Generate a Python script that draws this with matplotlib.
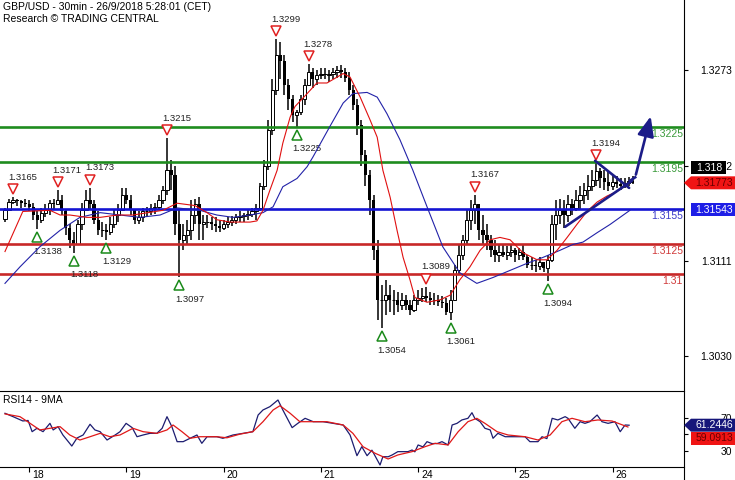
import matplotlib
matplotlib.use("Agg")
import matplotlib.pyplot as plt
import numpy as np
from matplotlib.lines import Line2D
from matplotlib.patches import Polygon
from matplotlib.transforms import IdentityTransform, offset_copy

plt.rcParams["font.family"] = ["Liberation Sans", "DejaVu Sans"]

# ---- data: hourly bars from 17/9 18:00 to 26/9 05:00 (index = bar number) ----
FIRST_OPEN = 1.3147
HIGH = [
    1.3156, 1.3164, 1.3165, 1.3164, 1.3163, 1.3164, 1.3163, 1.3160, 1.3153, 1.3156,
    1.3159, 1.3163, 1.3164, 1.3171, 1.3167, 1.3154, 1.3142, 1.3136, 1.3146, 1.3160,
    1.3171, 1.3173, 1.3163, 1.3153, 1.3144, 1.3142, 1.3148, 1.3154, 1.3159, 1.3173,
    1.3173, 1.3167, 1.3154, 1.3153, 1.3156, 1.3157, 1.3159, 1.3160, 1.3167, 1.3175,
    1.3215, 1.3197, 1.3192, 1.3154, 1.3142, 1.3146, 1.3163, 1.3164, 1.3165, 1.3150,
    1.3150, 1.3148, 1.3148, 1.3146, 1.3146, 1.3148, 1.3149, 1.3151, 1.3153, 1.3152,
    1.3154, 1.3156, 1.3159, 1.3177, 1.3197, 1.3231, 1.3265, 1.3299, 1.3297, 1.3286,
    1.3265, 1.3252, 1.3239, 1.3252, 1.3265, 1.3278, 1.3275, 1.3273, 1.3275, 1.3275,
    1.3273, 1.3275, 1.3276, 1.3277, 1.3275, 1.3271, 1.3260, 1.3248, 1.3231, 1.3205,
    1.3188, 1.3167, 1.3129, 1.3091, 1.3095, 1.3091, 1.3086, 1.3085, 1.3084, 1.3082,
    1.3078, 1.3082, 1.3086, 1.3088, 1.3089, 1.3085, 1.3084, 1.3082, 1.3081, 1.3080,
    1.3086, 1.3108, 1.3125, 1.3133, 1.3154, 1.3163, 1.3167, 1.3159, 1.3150, 1.3142,
    1.3133, 1.3129, 1.3125, 1.3125, 1.3124, 1.3125, 1.3122, 1.3122, 1.3125, 1.3116,
    1.3114, 1.3112, 1.3114, 1.3110, 1.3116, 1.3150, 1.3163, 1.3164, 1.3163, 1.3167,
    1.3164, 1.3171, 1.3175, 1.3177, 1.3184, 1.3188, 1.3194, 1.3190, 1.3188, 1.3187,
    1.3184, 1.3183, 1.3181, 1.3181, 1.3182, 1.3183]
LOW = [
    1.3144, 1.3154, 1.3159, 1.3158, 1.3156, 1.3157, 1.3153, 1.3146, 1.3138, 1.3143,
    1.3148, 1.3150, 1.3154, 1.3159, 1.3150, 1.3133, 1.3122, 1.3118, 1.3125, 1.3137,
    1.3153, 1.3154, 1.3142, 1.3133, 1.3131, 1.3129, 1.3133, 1.3139, 1.3144, 1.3154,
    1.3159, 1.3150, 1.3142, 1.3142, 1.3144, 1.3148, 1.3150, 1.3151, 1.3154, 1.3159,
    1.3167, 1.3171, 1.3133, 1.3097, 1.3120, 1.3125, 1.3129, 1.3142, 1.3129, 1.3129,
    1.3139, 1.3137, 1.3136, 1.3136, 1.3137, 1.3139, 1.3141, 1.3142, 1.3144, 1.3144,
    1.3146, 1.3148, 1.3146, 1.3153, 1.3171, 1.3188, 1.3218, 1.3252, 1.3265, 1.3252,
    1.3239, 1.3229, 1.3225, 1.3235, 1.3243, 1.3260, 1.3258, 1.3260, 1.3265, 1.3265,
    1.3263, 1.3265, 1.3266, 1.3266, 1.3263, 1.3252, 1.3239, 1.3218, 1.3192, 1.3175,
    1.3150, 1.3112, 1.3061, 1.3054, 1.3065, 1.3068, 1.3065, 1.3068, 1.3069, 1.3069,
    1.3065, 1.3068, 1.3074, 1.3076, 1.3076, 1.3074, 1.3074, 1.3073, 1.3071, 1.3065,
    1.3061, 1.3078, 1.3099, 1.3112, 1.3125, 1.3137, 1.3142, 1.3129, 1.3125, 1.3120,
    1.3114, 1.3110, 1.3110, 1.3114, 1.3112, 1.3114, 1.3110, 1.3112, 1.3112, 1.3105,
    1.3103, 1.3102, 1.3103, 1.3102, 1.3094, 1.3110, 1.3129, 1.3142, 1.3139, 1.3144,
    1.3150, 1.3153, 1.3154, 1.3159, 1.3163, 1.3170, 1.3175, 1.3173, 1.3171, 1.3170,
    1.3171, 1.3173, 1.3171, 1.3173, 1.3175, 1.3176]
CLOSE = [
    1.3154, 1.3161, 1.3163, 1.3162, 1.3160, 1.3159, 1.3157, 1.3150, 1.3146, 1.3152,
    1.3154, 1.3160, 1.3159, 1.3163, 1.3153, 1.3139, 1.3129, 1.3125, 1.3142, 1.3154,
    1.3163, 1.3159, 1.3146, 1.3137, 1.3137, 1.3136, 1.3142, 1.3150, 1.3154, 1.3167,
    1.3163, 1.3154, 1.3146, 1.3148, 1.3153, 1.3153, 1.3156, 1.3157, 1.3163, 1.3171,
    1.3188, 1.3184, 1.3142, 1.3129, 1.3133, 1.3137, 1.3150, 1.3159, 1.3142, 1.3144,
    1.3144, 1.3142, 1.3141, 1.3139, 1.3142, 1.3144, 1.3146, 1.3148, 1.3149, 1.3150,
    1.3151, 1.3153, 1.3156, 1.3175, 1.3192, 1.3222, 1.3256, 1.3286, 1.3281, 1.3260,
    1.3248, 1.3235, 1.3237, 1.3248, 1.3260, 1.3271, 1.3265, 1.3269, 1.3270, 1.3269,
    1.3270, 1.3271, 1.3273, 1.3271, 1.3266, 1.3256, 1.3243, 1.3226, 1.3201, 1.3184,
    1.3163, 1.3120, 1.3078, 1.3078, 1.3082, 1.3078, 1.3078, 1.3074, 1.3078, 1.3074,
    1.3069, 1.3078, 1.3080, 1.3081, 1.3080, 1.3078, 1.3078, 1.3076, 1.3075, 1.3068,
    1.3078, 1.3103, 1.3116, 1.3129, 1.3146, 1.3154, 1.3159, 1.3137, 1.3133, 1.3129,
    1.3120, 1.3116, 1.3119, 1.3116, 1.3119, 1.3120, 1.3116, 1.3119, 1.3114, 1.3108,
    1.3108, 1.3107, 1.3110, 1.3105, 1.3112, 1.3142, 1.3150, 1.3154, 1.3150, 1.3159,
    1.3156, 1.3163, 1.3167, 1.3171, 1.3175, 1.3180, 1.3187, 1.3181, 1.3178, 1.3175,
    1.3178, 1.3176, 1.3175, 1.3177, 1.3179, 1.3177]

# moving averages
RED_MA_T = [0, 4.4, 11.1, 13.6, 16.0, 20.2, 23.5, 27.7, 31.6, 39.0,
            42.5, 46.9, 49.9, 52.3, 55.6, 60.5, 62.2, 63.7, 65.4, 67.2,
            68.6, 70.4, 71.6, 74.6, 77.0, 79.5, 82.0, 83.5, 85.2, 87.7,
            90.1, 91.9, 93.3, 95.1, 96.8, 98.3, 100.0, 101.2, 104.2, 107.4,
            109.9, 112.3, 114.8, 117.3, 119.8, 122.2, 124.7, 127.9, 131.4, 133.8,
            136.3, 138.8, 141.2, 143.7, 146.2, 148.6, 151.1, 154.3]
RED_MA = [1.3119, 1.3153, 1.3154, 1.3150, 1.3150, 1.3148, 1.3148, 1.3150, 1.3150, 1.3154,
          1.3160, 1.3158, 1.3152, 1.3146, 1.3144, 1.3144, 1.3145, 1.3154, 1.3171, 1.3188,
          1.3211, 1.3233, 1.3242, 1.3253, 1.3262, 1.3262, 1.3267, 1.3270, 1.3267, 1.3250,
          1.3231, 1.3216, 1.3188, 1.3165, 1.3137, 1.3114, 1.3095, 1.3080, 1.3076, 1.3078,
          1.3082, 1.3095, 1.3106, 1.3120, 1.3129, 1.3131, 1.3129, 1.3118, 1.3112, 1.3112,
          1.3120, 1.3131, 1.3142, 1.3153, 1.3161, 1.3166, 1.3170, 1.3178]
BLUE_MA_T = [0, 3.7, 8.6, 13.6, 18.5, 23.5, 28.4, 33.3, 38.3, 42.5,
             48.1, 52.3, 56.3, 60.5, 63.7, 66.2, 68.6, 72.1, 74.6, 76.0,
             80.2, 83.5, 85.9, 89.4, 91.9, 94.3, 97.5, 100.7, 104.2, 108.1,
             112.3, 116.5, 120.5, 124.7, 128.9, 132.8, 137.0, 140.2, 142.7, 146.2,
             149.4, 154.3]
BLUE_MA = [1.3092, 1.3106, 1.3123, 1.3137, 1.3148, 1.3152, 1.3150, 1.3148, 1.3150, 1.3156,
           1.3154, 1.3150, 1.3148, 1.3150, 1.3152, 1.3157, 1.3174, 1.3181, 1.3191, 1.3199,
           1.3225, 1.3245, 1.3253, 1.3254, 1.3250, 1.3236, 1.3214, 1.3188, 1.3157, 1.3123,
           1.3101, 1.3092, 1.3097, 1.3103, 1.3109, 1.3114, 1.3120, 1.3125, 1.3127, 1.3135,
           1.3142, 1.3154]

# RSI14 and its 9MA
RSI_T = [0, 2.0, 4.4, 5.7, 6.7, 7.9, 9.4, 11.1, 11.9, 13.1,
         14.3, 16.5, 17.8, 19.3, 21.0, 22.2, 23.5, 25.2, 27.2, 28.4,
         29.9, 31.4, 32.6, 34.1, 35.8, 37.5, 38.8, 40.0, 41.2, 42.5,
         44.0, 45.7, 47.4, 48.6, 49.9, 52.3, 53.8, 56.3, 58.8, 61.2,
         62.5, 63.7, 65.4, 67.4, 68.6, 70.9, 72.3, 74.1, 76.1, 78.5,
         81.0, 83.5, 85.2, 86.9, 88.1, 89.4, 90.6, 92.6, 93.3, 94.6,
         95.6, 97.0, 99.5, 100.5, 101.2, 102.0, 103.2, 104.2, 105.4, 106.7,
         107.9, 109.4, 110.4, 111.6, 112.8, 114.3, 115.3, 116.0, 117.3, 118.5,
         119.8, 120.5, 121.7, 123.5, 125.9, 128.4, 129.6, 131.6, 132.6, 133.8,
         135.1, 136.5, 138.3, 139.0, 140.7, 142.0, 143.2, 144.4, 146.2, 147.4,
         148.9, 150.6, 151.9, 153.1, 154.1]
RSI = [75.7, 71.6, 66.4, 67.0, 53.4, 57.5, 53.4, 63.5, 55.5, 59.5,
       49.4, 36.0, 45.8, 49.4, 62.4, 55.5, 53.4, 43.3, 49.4, 53.4,
       63.5, 58.3, 47.3, 49.4, 51.4, 51.4, 57.5, 71.6, 59.5, 41.3,
       41.3, 45.4, 49.4, 39.3, 47.3, 47.3, 45.4, 49.4, 51.4, 53.4,
       73.6, 79.7, 83.7, 91.8, 79.7, 58.3, 63.5, 69.6, 65.5, 65.5,
       63.5, 61.5, 49.4, 24.3, 35.2, 24.3, 31.0, 13.0, 23.1, 23.0,
       25.2, 29.2, 29.2, 31.2, 29.0, 37.3, 35.0, 41.3, 39.0, 39.0,
       41.3, 37.3, 61.5, 63.5, 67.6, 69.6, 76.4, 69.6, 65.5, 57.5,
       55.5, 45.4, 51.4, 47.3, 47.3, 47.3, 41.3, 41.3, 47.3, 45.0,
       69.6, 67.6, 71.6, 69.6, 57.5, 65.5, 63.5, 65.5, 73.6, 65.5,
       63.5, 65.5, 53.4, 61.5, 61.2446]
RSI_MA_T = [0, 3.7, 6.2, 8.6, 11.1, 13.6, 16.0, 18.5, 21.0, 23.5,
            25.9, 28.4, 31.6, 34.1, 37.5, 40.0, 41.5, 43.7, 45.7, 48.1,
            52.3, 54.8, 58.0, 61.2, 63.7, 66.2, 67.9, 70.4, 72.8, 76.1,
            79.5, 83.5, 85.9, 88.4, 91.4, 94.6, 97.0, 100.5, 103.7, 106.2,
            109.4, 111.9, 114.3, 116.5, 118.5, 121.5, 124.2, 128.4, 131.6, 134.6,
            137.5, 140.0, 143.2, 146.4, 149.9, 153.8]
RSI_MA = [74.9, 71.6, 63.5, 55.5, 57.5, 59.5, 49.4, 43.3, 47.3, 51.4,
          47.3, 49.4, 57.5, 53.4, 51.4, 55.5, 61.5, 53.4, 45.4, 47.3,
          47.3, 46.0, 50.4, 53.4, 65.5, 79.7, 84.9, 75.7, 65.5, 65.5,
          65.5, 61.5, 51.4, 35.2, 27.2, 20.3, 25.2, 29.2, 35.2, 39.3,
          37.3, 53.4, 65.5, 69.6, 63.5, 53.4, 49.4, 47.3, 43.3, 49.4,
          65.5, 69.6, 65.5, 67.6, 66.3, 59.0913]

# pivots
HIGH_MARKS_T = [2, 13, 21, 40, 67, 75, 104, 116, 146]
HIGH_MARKS = [1.3165, 1.3171, 1.3173, 1.3215, 1.3299, 1.3278, 1.3089, 1.3167, 1.3194]
LOW_MARKS_T = [8, 17, 25, 43, 72, 93, 110, 134]
LOW_MARKS = [1.3138, 1.3118, 1.3129, 1.3097, 1.3225, 1.3054, 1.3061, 1.3094]

# key levels
LEVELS = [1.3225, 1.3195, 1.3155, 1.3125, 1.3100]
LEVEL_LABELS = ["1.3225", "1.3195", "1.3155", "1.3125", "1.31"]

# triangle pattern + projected arrow
UPPER_T, UPPER = [145.7, 154.1], [1.3196, 1.3173]
LOWER_T, LOWER = [138.3, 154.8], [1.3140, 1.3179]
ARROW_T, ARROW = [154.3, 155.6, 159.6], [1.3179, 1.3182, 1.3236]

DAY_T = [6, 30, 54, 78, 102, 126, 150]
DAY_LABELS = ["18", "19", "20", "21", "24", "25", "26"]
PRICE_TICKS = [1.3030, 1.3111, 1.3192, 1.3273]
RSI_TICKS = [30, 50, 70]
RSI_TICK_LABELS = ["30", "", "70"]   # 50 sits under the MA tag

LAST_PRICE = "1.318"
RED_TAG, BLUE_TAG = 1.31773, 1.31543
RSI_TAG, RSI_MA_TAG = 61.2446, 59.0913

NAVY = "#1c1c88"
LEVEL_COLORS = ["#1e8c1e", "#1e8c1e", "#1414d2", "#c82828", "#c82828"]
LEVEL_TEXT = ["#3a9a3a", "#3a9a3a", "#3c3cc8", "#d03a3a", "#d03a3a"]

W, H = 735, 480
fig = plt.figure(figsize=(W / 100, H / 100), dpi=100)
ax = fig.add_axes([0, 89 / H, 684 / W, 391 / H])
ar = fig.add_axes([0, 13 / H, 684 / W, 76 / H])
XLIM = (-1.23, 167.65)

# ---------------- price panel ----------------
t = np.arange(len(CLOSE))
cl = np.array(CLOSE)
op = np.r_[FIRST_OPEN, cl[:-1]]
up = cl >= op
ax.vlines(t, LOW, HIGH, color="black", lw=1.1, zorder=2)
ax.bar(t[up], (cl - op)[up], bottom=op[up], width=0.8, facecolor="white",
       edgecolor="black", lw=0.7, zorder=2.5)
ax.bar(t[~up], (op - cl)[~up], bottom=cl[~up], width=0.8, color="black", zorder=2.5)

for lv, lab, c, tc in zip(LEVELS, LEVEL_LABELS, LEVEL_COLORS, LEVEL_TEXT):
    ax.axhline(lv, color=c, lw=1.9, zorder=3)
    ax.annotate(lab, xy=(1, lv), xycoords=("axes fraction", "data"), xytext=(-1, -7),
                textcoords="offset pixels", ha="right", va="center", fontsize=7.5, color=tc)

ax.plot(BLUE_MA_T, BLUE_MA, color="#2222a8", lw=0.8, zorder=4)
ax.plot(RED_MA_T, RED_MA, color="#e01010", lw=0.8, zorder=4)

tr_up = offset_copy(ax.transData, fig=fig, y=8, units="dots")
tr_dn = offset_copy(ax.transData, fig=fig, y=-8, units="dots")
ax.plot(HIGH_MARKS_T, HIGH_MARKS, ls="none", marker="v", ms=7.5, mfc="white",
        mec="#e02020", mew=1.1, transform=tr_up, zorder=5)
ax.plot(LOW_MARKS_T, LOW_MARKS, ls="none", marker="^", ms=7.5, mfc="white",
        mec="#1a8a1a", mew=1.1, transform=tr_dn, zorder=5)
for tt, v in zip(HIGH_MARKS_T, HIGH_MARKS):
    ax.annotate(f"{v:.4f}", xy=(tt, v), xytext=(-5, 20), textcoords="offset pixels",
                ha="left", va="center", fontsize=6.8, color="#222222")
for tt, v in zip(LOW_MARKS_T, LOW_MARKS):
    ax.annotate(f"{v:.4f}", xy=(tt, v), xytext=(-4, -22), textcoords="offset pixels",
                ha="left", va="center", fontsize=6.8, color="#222222")

ax.plot(UPPER_T, UPPER, color=NAVY, lw=1.9, solid_capstyle="round", zorder=6)
ax.plot(LOWER_T, LOWER, color=NAVY, lw=1.9, solid_capstyle="round", zorder=6)
ax.plot(ARROW_T[:2], ARROW[:2], color=NAVY, lw=1.9, zorder=6)
ax.annotate("", xy=(ARROW_T[2], ARROW[2]), xytext=(ARROW_T[1], ARROW[1]),
            arrowprops=dict(arrowstyle="-|>,head_length=0.6,head_width=0.25",
                            color=NAVY, lw=1.9, mutation_scale=20), zorder=6)

ax.set_xlim(*XLIM)
ax.set_ylim(1.30007, 1.33324)
ax.set_xticks([])
ax.yaxis.tick_right()
ax.set_yticks(PRICE_TICKS)
ax.set_yticklabels([f"{v:.4f}" for v in PRICE_TICKS])
ax.tick_params(axis="y", direction="out", length=3, width=0.8, pad=31.5, labelsize=7.5)
plt.setp(ax.get_yticklabels(), ha="right")
for s in ax.spines.values():
    s.set_visible(False)

# ---------------- RSI panel ----------------
ar.plot(RSI_T, RSI, color="#1c1c70", lw=0.9)
ar.plot(RSI_MA_T, RSI_MA, color="#e01818", lw=0.9)
ar.text(3 / 684, 0.88, "RSI14 - 9MA", transform=ar.transAxes, fontsize=7.5, va="center")
ar.set_xlim(*XLIM)
ar.set_ylim(10.6, 102.7)
ar.yaxis.tick_right()
ar.set_yticks(RSI_TICKS)
ar.set_yticklabels(RSI_TICK_LABELS)
ar.tick_params(axis="y", direction="out", length=3, width=0.8, pad=31.5, labelsize=7.5)
plt.setp(ar.get_yticklabels(), ha="right")
ar.set_xticks(DAY_T)
ar.set_xticklabels([])
ar.tick_params(axis="x", direction="out", length=3.5, width=0.8)
for d, lab in zip(DAY_T, DAY_LABELS):
    ar.annotate(lab, xy=(d, 0), xycoords=("data", "axes fraction"), xytext=(3, -8),
                textcoords="offset pixels", ha="left", va="center", fontsize=7.5)
ar.spines["left"].set_visible(False)
ar.spines["right"].set_visible(False)
ar.spines["top"].set_linewidth(0.8)
ar.spines["bottom"].set_linewidth(0.8)

# ---------------- frame + tags ----------------
ID = IdentityTransform()
fig.add_artist(Line2D([684, 684], [0, H], transform=ID, color="black", lw=0.8))


def tag(yd, text, face, tcolor, arrow, x0=691, x1=735):
    h = 6.5
    pts = [(x0, yd + h), (x1, yd + h), (x1, yd - h), (x0, yd - h)]
    if arrow:
        pts = [(684, yd)] + pts
    fig.add_artist(Polygon(pts, closed=True, transform=ID, facecolor=face,
                           edgecolor="none", zorder=5))
    fig.text((x0 + x1) / 2 + 1, yd, text, transform=ID, ha="center", va="center",
             fontsize=7.5, color=tcolor, zorder=6)


y_red = ax.transData.transform((0, RED_TAG))[1]
y_blue = ax.transData.transform((0, BLUE_TAG))[1]
tag(y_red, f"{RED_TAG:.5f}", "#f01414", "#6a0000", True)
tag(y_red + 15, LAST_PRICE, "black", "white", False, x1=726)
tag(y_blue, f"{BLUE_TAG:.5f}", "#1e1ee6", "white", False)
y_rsi = ar.transData.transform((0, RSI_TAG))[1]
tag(y_rsi, f"{RSI_TAG:.4f}", "#16167a", "white", True)
tag(y_rsi - 13, f"{RSI_MA_TAG:.4f}", "#f01414", "#6a0000", False)

fig.text(3 / W, 1 - 7.5 / H, "GBP/USD - 30min - 26/9/2018 5:28:01 (CET)",
         fontsize=7.5, va="center", ha="left")
fig.text(3 / W, 1 - 19.5 / H, "Research \u00a9 TRADING CENTRAL",
         fontsize=7.5, va="center", ha="left")

fig.savefig("out.png", dpi=100, facecolor="white")
